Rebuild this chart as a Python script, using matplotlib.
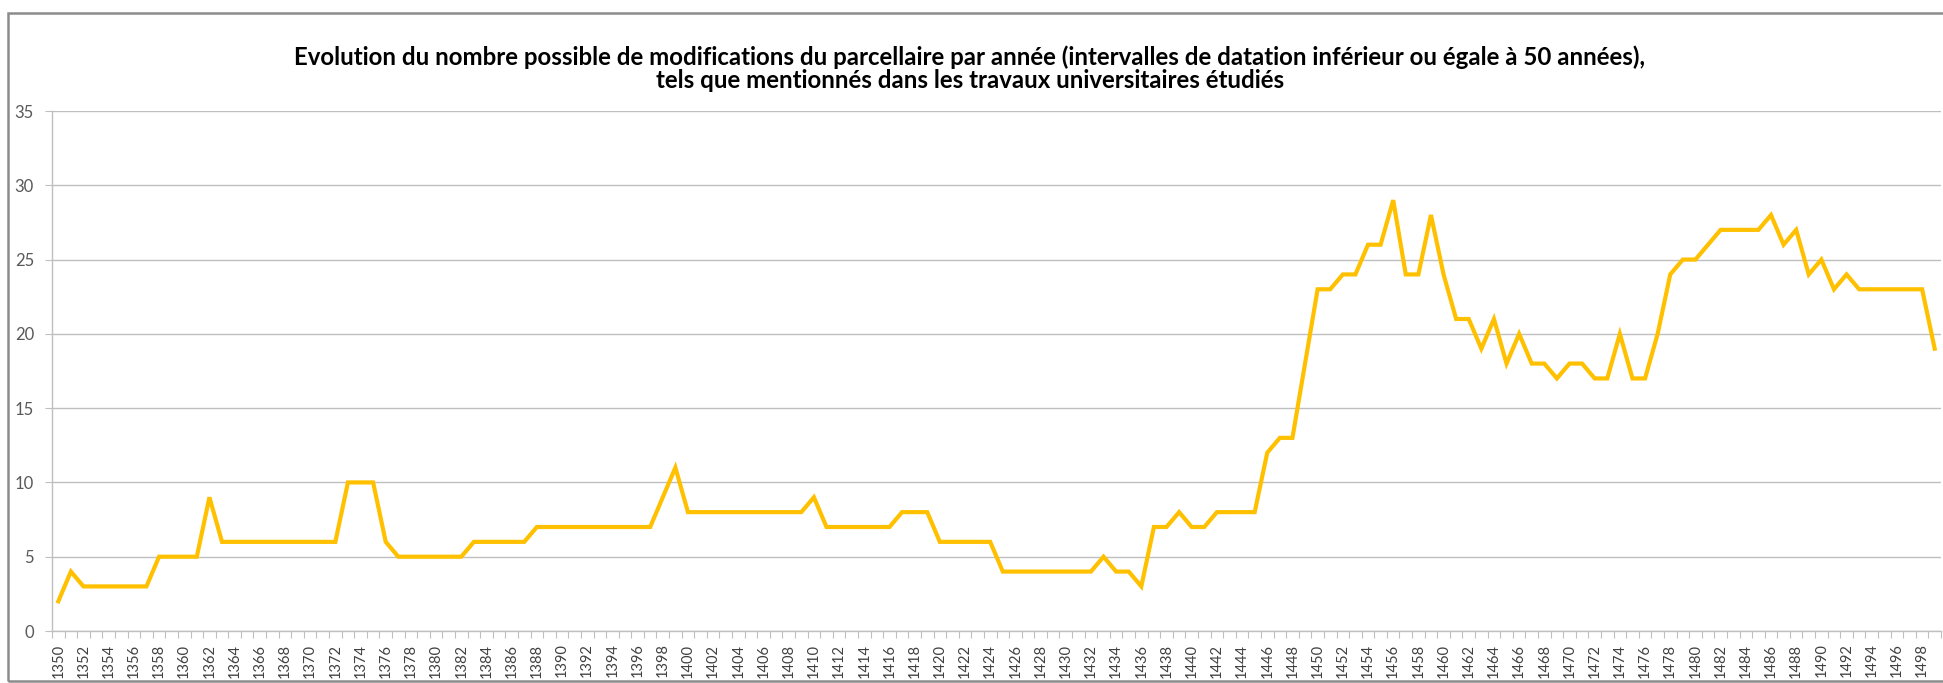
import numpy as np
import matplotlib
matplotlib.use("Agg")
import matplotlib.pyplot as plt
from matplotlib.patches import Rectangle
from matplotlib.ticker import FixedLocator

# number of possible parcel changes per year, 1350-1499
years = list(range(1350, 1500))
counts = [
    2, 4, 3, 3, 3, 3, 3, 3, 5, 5,          # 1350-1359
    5, 5, 9, 6, 6, 6, 6, 6, 6, 6,          # 1360-1369
    6, 6, 6, 10, 10, 10, 6, 5, 5, 5,       # 1370-1379
    5, 5, 5, 6, 6, 6, 6, 6, 7, 7,          # 1380-1389
    7, 7, 7, 7, 7, 7, 7, 7, 9, 11,         # 1390-1399
    8, 8, 8, 8, 8, 8, 8, 8, 8, 8,          # 1400-1409
    9, 7, 7, 7, 7, 7, 7, 8, 8, 8,          # 1410-1419
    6, 6, 6, 6, 6, 4, 4, 4, 4, 4,          # 1420-1429
    4, 4, 4, 5, 4, 4, 3, 7, 7, 8,          # 1430-1439
    7, 7, 8, 8, 8, 8, 12, 13, 13, 18,      # 1440-1449
    23, 23, 24, 24, 26, 26, 29, 24, 24, 28,  # 1450-1459
    24, 21, 21, 19, 21, 18, 20, 18, 18, 17,  # 1460-1469
    18, 18, 17, 17, 20, 17, 17, 20, 24, 25,  # 1470-1479
    25, 26, 27, 27, 27, 27, 28, 26, 27, 24,  # 1480-1489
    25, 23, 24, 23, 23, 23, 23, 23, 23, 19,  # 1490-1499
]
title_lines = [
    "Evolution du nombre possible de modifications du parcellaire par année "
    "(intervalles de datation inférieur ou égale à 50 années),",
    "tels que mentionnés dans les travaux universitaires étudiés",
]

W, H, DPI = 1943, 683, 100
LINE = "#FFC000"
GRID = "#BFBFBF"
TXT = "#404040"

plt.rcParams["font.family"] = ["Lato", "DejaVu Sans"]

fig = plt.figure(figsize=(W / DPI, H / DPI), dpi=DPI, facecolor="white")

# chart border (right edge runs off the canvas)
fig.patches.append(Rectangle((8 / W, 1 - 681 / H), 2.0, (681 - 13) / H,
                             transform=fig.transFigure, fill=False,
                             edgecolor="#8c8c8c", linewidth=1.8))

ax = fig.add_axes([52 / W, 1 - 631 / H, 1889 / W, 520 / H])
ax.plot(years, counts, color=LINE, linewidth=3.0, solid_joinstyle="miter")

ax.set_xlim(years[0] - 0.5, years[-1] + 0.5)
ax.set_ylim(0, 35)
ax.set_yticks(range(0, 36, 5))
ax.yaxis.grid(True, color=GRID, linewidth=1.0)
ax.set_axisbelow(True)

ax.set_xticks(years[::2])
ax.set_xticklabels([str(y) for y in years[::2]], rotation=90)
ax.xaxis.set_minor_locator(FixedLocator(np.arange(years[0] - 0.5, years[-1] + 1, 1)))
ax.tick_params(axis="x", which="major", length=0, pad=9, labelsize=10.5, labelcolor=TXT)
ax.tick_params(axis="x", which="minor", length=5, width=0.8, color=GRID, direction="out")
ax.tick_params(axis="y", length=5, width=0.8, color=GRID, pad=8, labelsize=12,
               labelcolor="#595959")

for side in ("top", "right"):
    ax.spines[side].set_visible(False)
for side in ("left", "bottom"):
    ax.spines[side].set_color(GRID)
    ax.spines[side].set_linewidth(1.0)

fig.text(970 / W, 1 - 57 / H, title_lines[0], ha="center", va="center",
         fontsize=17.3, fontweight="bold", color="black")
fig.text(970 / W, 1 - 80 / H, title_lines[1], ha="center", va="center",
         fontsize=17.3, fontweight="bold", color="black")

fig.savefig("out.png", dpi=DPI, facecolor="white")
